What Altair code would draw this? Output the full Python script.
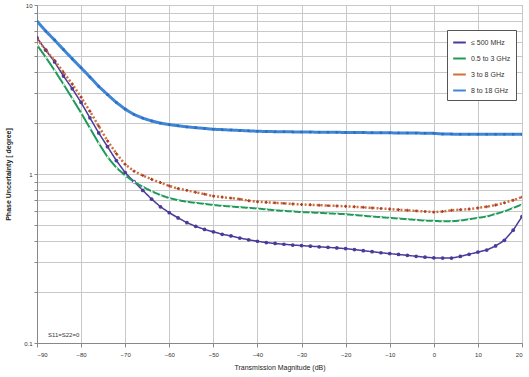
import altair as alt
import pandas as pd

# ---- data ----
x_db = [-90, -88, -86, -84, -82, -80, -78, -76, -74, -72,
        -70, -68, -66, -64, -62, -60, -58, -56, -54, -52,
        -50, -48, -46, -44, -42, -40, -38, -36, -34, -32,
        -30, -28, -26, -24, -22, -20, -18, -16, -14, -12,
        -10, -8, -6, -4, -2, 0, 2, 4, 6, 8,
        10, 12, 14, 16, 18, 20]

series_names = ["≤ 500 MHz", "0.5 to 3 GHz", "3 to 8 GHz", "8 to 18 GHz"]

s_500mhz = [6.4, 5.4, 4.6, 3.8, 3.2, 2.65, 2.15, 1.75, 1.45, 1.2,
            1.02, 0.9, 0.8, 0.71, 0.64, 0.59, 0.55, 0.515, 0.49, 0.47,
            0.455, 0.44, 0.43, 0.418, 0.408, 0.40, 0.393, 0.388, 0.384, 0.38,
            0.377, 0.374, 0.371, 0.368, 0.365, 0.362, 0.357, 0.352, 0.347, 0.342,
            0.338, 0.334, 0.33, 0.326, 0.322, 0.319, 0.318, 0.318, 0.325, 0.335,
            0.345, 0.355, 0.375, 0.405, 0.465, 0.56]

s_3ghz = [5.8, 4.9, 4.1, 3.4, 2.8, 2.3, 1.87, 1.52, 1.26, 1.09,
          0.98, 0.9, 0.84, 0.79, 0.75, 0.72, 0.70, 0.685, 0.675, 0.665,
          0.655, 0.648, 0.642, 0.636, 0.63, 0.625, 0.617, 0.61, 0.605, 0.60,
          0.595, 0.592, 0.589, 0.585, 0.582, 0.578, 0.572, 0.566, 0.56, 0.555,
          0.55, 0.545, 0.54, 0.535, 0.53, 0.528, 0.525, 0.525, 0.53, 0.54,
          0.55, 0.56, 0.58, 0.60, 0.63, 0.66]

s_8ghz = [6.3, 5.4, 4.7, 4.0, 3.4, 2.85, 2.35, 1.92, 1.57, 1.32,
          1.14, 1.04, 0.98, 0.93, 0.89, 0.85, 0.82, 0.80, 0.78, 0.76,
          0.74, 0.73, 0.72, 0.71, 0.695, 0.685, 0.68, 0.675, 0.67, 0.665,
          0.66, 0.657, 0.654, 0.65, 0.647, 0.644, 0.64, 0.635, 0.63, 0.625,
          0.62, 0.615, 0.61, 0.605, 0.60, 0.595, 0.60, 0.61, 0.615, 0.62,
          0.63, 0.64, 0.655, 0.675, 0.70, 0.73]

s_18ghz = [8.0, 7.0, 6.2, 5.45, 4.8, 4.25, 3.75, 3.3, 2.95, 2.65,
           2.42, 2.25, 2.14, 2.06, 2.0, 1.96, 1.93, 1.9, 1.88, 1.86,
           1.84, 1.83, 1.82, 1.81, 1.80, 1.79, 1.785, 1.78, 1.778, 1.775,
           1.772, 1.77, 1.768, 1.766, 1.764, 1.762, 1.76, 1.758, 1.756, 1.754,
           1.752, 1.75, 1.748, 1.746, 1.744, 1.74, 1.725, 1.722, 1.72, 1.72,
           1.72, 1.72, 1.72, 1.72, 1.72, 1.72]

x_ticks = [-90, -80, -70, -60, -50, -40, -30, -20, -10, 0, 10, 20]
y_ticks = [0.1, 0.2, 0.3, 0.4, 0.5, 0.6, 0.7, 0.8, 0.9,
           1, 2, 3, 4, 5, 6, 7, 8, 9, 10]

note_text = ["S11=S22=0"]
note_x = [-87.5]
note_y = [0.112]

# ---- table ----
rows = []
for name, vals in zip(series_names, [s_500mhz, s_3ghz, s_8ghz, s_18ghz]):
    for xv, yv in zip(x_db, vals):
        rows.append({"x": xv, "y": yv, "series": name})
df = pd.DataFrame(rows)
note_df = pd.DataFrame({"t": note_text, "x": note_x, "y": note_y})

colors = ["#4b3a9a", "#1f9a58", "#d0703a", "#3f86d6"]
point_colors = ["#4b3a9a", "#e8f5ec", "#a83a2a", "#2f6cc0"]
dashes = [[1, 0], [1, 0], [2, 2], [1, 0]]
widths = [1.5, 3, 1.2, 3.5]
shapes = ["circle", "triangle-up", "cross", "square"]
psizes = [14, 6, 10, 14]

xs = alt.X("x:Q", scale=alt.Scale(domain=[-90, 20], nice=False),
           axis=alt.Axis(values=x_ticks, title="Transmission Magnitude (dB)",
                         grid=True, tickSize=4, labelPadding=4, titlePadding=6))
ys = alt.Y("y:Q", scale=alt.Scale(type="log", domain=[0.1, 10], nice=False),
           axis=alt.Axis(values=y_ticks, title="Phase Uncertainty [ degree]",
                         labelExpr="(datum.value==0.1||datum.value==1||datum.value==10) ? datum.label : ''",
                         format="~g", grid=True, tickSize=3, titlePadding=12))

lines = alt.Chart(df).mark_line(clip=True).encode(
    x=xs, y=ys,
    color=alt.Color("series:N", scale=alt.Scale(domain=series_names, range=colors),
                    legend=alt.Legend(title=None, orient="none", legendX=410, legendY=25,
                                      symbolType="stroke", symbolStrokeWidth=2,
                                      symbolSize=160, labelFontSize=7, rowPadding=4,
                                      padding=5, strokeColor="#555555", fillColor="white",
                                      labelColor="#333333")),
    strokeDash=alt.StrokeDash("series:N", scale=alt.Scale(domain=series_names, range=dashes),
                              legend=None),
    strokeWidth=alt.StrokeWidth("series:N", scale=alt.Scale(domain=series_names, range=widths),
                                legend=None),
    order="x:Q",
)

points = alt.Chart(df).mark_point(filled=True, opacity=1, clip=True).encode(
    x="x:Q", y="y:Q",
    fill=alt.Fill("series:N", scale=alt.Scale(domain=series_names, range=point_colors), legend=None),
    shape=alt.Shape("series:N", scale=alt.Scale(domain=series_names, range=shapes), legend=None),
    size=alt.Size("series:N", scale=alt.Scale(domain=series_names, range=psizes), legend=None),
)

note = alt.Chart(note_df).mark_text(align="left", fontSize=6, color="#333333").encode(
    x="x:Q", y="y:Q", text="t:N")

chart = alt.layer(lines, points, note).resolve_scale(
    color="independent", fill="independent", shape="independent", size="independent"
).properties(
    width=485, height=338,
    autosize=alt.AutoSizeParams(type="none"),
    padding={"left": 37, "top": 5, "right": 7, "bottom": 34},
).configure(font="Liberation Sans", background="white").configure_axis(
    labelFontSize=6, titleFontSize=7, labelColor="#333333", titleColor="#222222",
    gridColor="#c8c8c8", gridWidth=1, domainColor="#888888", tickColor="#888888",
    titleFontWeight="normal",
).configure_axisY(titleFontWeight="bold").configure_view(stroke="#999999", strokeWidth=1)

chart.save("out.html", embed_options={"renderer": "svg", "actions": False})
